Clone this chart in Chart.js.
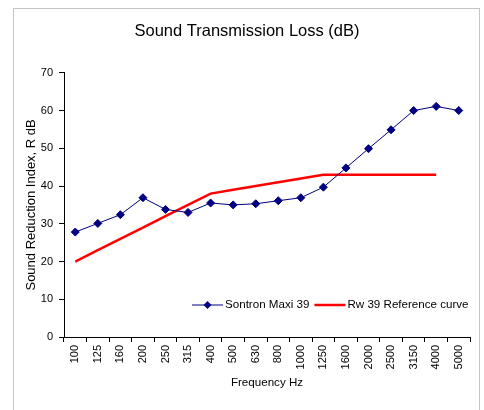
<!DOCTYPE html>
<html lang="en">
<head>
    <meta charset="UTF-8">
    <title>Sound Transmission Loss</title>
    <script src="https://cdn.jsdelivr.net/npm/chart.js"></script>
    <style>
        body { margin: 0; background: #fff; }
        canvas { display: block; }
    </style>
</head>
<body>
    <canvas id="stlChart" width="484" height="410"></canvas>

    <script>
        // frequency bands (Hz)
        let frequencies = ['100', '125', '160', '200', '250', '315', '400', '500', '630',
                           '800', '1000', '1250', '1600', '2000', '2500', '3150', '4000', '5000'];
        // measured sound reduction index
        let sontron = [27.8, 30.1, 32.4, 36.9, 33.8, 33.0, 35.5, 35.0, 35.3,
                       36.1, 36.9, 39.7, 44.8, 49.9, 54.9, 60.0, 61.1, 60.0];
        // Rw 39 reference curve
        let reference = [20, 23, 26, 29, 32, 35, 38, 39, 40,
                         41, 42, 43, 43, 43, 43, 43, 43, null];

        Chart.defaults.font.family = '"Liberation Sans", Arial, sans-serif';
        Chart.defaults.font.size = 11;
        Chart.defaults.color = '#000';

        // grey frame round the whole chart
        let framePlugin = {
            id: 'frame',
            beforeDraw(chart) {
                let c = chart.ctx;
                c.save();
                c.fillStyle = '#fff';
                c.fillRect(0, 0, chart.width, chart.height);
                c.strokeStyle = '#c4c4c4';
                c.lineWidth = 1;
                c.strokeRect(13.5, 8.5, 466, 420);
                c.restore();
            }
        };

        // legend sitting inside the plot, bottom right
        let legendPlugin = {
            id: 'insideLegend',
            afterDraw(chart) {
                let c = chart.ctx;
                let y = 305;
                let x = 192;
                c.save();
                c.font = '11.6px "Liberation Sans", Arial, sans-serif';
                c.textBaseline = 'middle';
                chart.data.datasets.forEach(function(ds) {
                    c.strokeStyle = ds.borderColor;
                    c.lineWidth = ds.borderWidth;
                    c.beginPath();
                    c.moveTo(x, y);
                    c.lineTo(x + 31, y);
                    c.stroke();
                    if (ds.pointRadius > 0) {
                        c.fillStyle = ds.pointBackgroundColor;
                        c.beginPath();
                        c.moveTo(x + 15.5, y - 4);
                        c.lineTo(x + 19.5, y);
                        c.lineTo(x + 15.5, y + 4);
                        c.lineTo(x + 11.5, y);
                        c.closePath();
                        c.fill();
                    }
                    c.fillStyle = '#000';
                    c.fillText(ds.label, x + 33, y);
                    x += 33 + c.measureText(ds.label).width + 5;
                });
                c.restore();
            }
        };

        let ctx = document.getElementById('stlChart').getContext('2d');
        let chart = new Chart(ctx, {
            type: 'line',
            data: {
                labels: frequencies,
                datasets: [{
                    label: 'Sontron Maxi 39',
                    data: sontron,
                    borderColor: '#000080',
                    borderWidth: 1,
                    pointStyle: 'rectRot',
                    pointRadius: 4,
                    pointBackgroundColor: '#000080',
                    pointBorderColor: '#000080',
                    pointBorderWidth: 1,
                    tension: 0,
                    fill: false
                }, {
                    label: 'Rw 39 Reference curve',
                    data: reference,
                    borderColor: '#ff0000',
                    borderWidth: 2.5,
                    pointRadius: 0,
                    tension: 0,
                    fill: false
                }]
            },
            options: {
                responsive: false,
                animation: false,
                layout: { padding: { left: 24, right: 14, top: 0, bottom: 0 } },
                plugins: {
                    legend: { display: false },
                    tooltip: { enabled: false },
                    title: {
                        display: true,
                        text: 'Sound Transmission Loss (dB)',
                        font: { size: 16.5, weight: 'normal' },
                        color: '#000',
                        padding: { top: 22, bottom: 31 }
                    }
                },
                scales: {
                    x: {
                        offset: true,
                        grid: { offset: true, drawOnChartArea: false, drawTicks: true, tickLength: 5, color: '#000' },
                        border: { display: true, color: '#000', width: 1 },
                        ticks: { autoSkip: false, maxRotation: 90, minRotation: 90, padding: 3 },
                        title: { display: true, text: 'Frequency Hz', font: { size: 11.6 }, padding: { top: 0, bottom: 20 } },
                        afterFit(scale) { scale.height = 73; }
                    },
                    y: {
                        min: 0,
                        max: 70,
                        ticks: { stepSize: 10, padding: 6 },
                        grid: { drawOnChartArea: false, drawTicks: true, tickLength: 5, color: '#000' },
                        border: { display: true, color: '#000', width: 1 },
                        title: { display: true, text: 'Sound Reduction Index, R dB', font: { size: 13 }, padding: { top: 0, bottom: 0 } },
                        afterFit(scale) { scale.width = 40; }
                    }
                }
            },
            plugins: [framePlugin, legendPlugin]
        });
    </script>
</body>
</html>
